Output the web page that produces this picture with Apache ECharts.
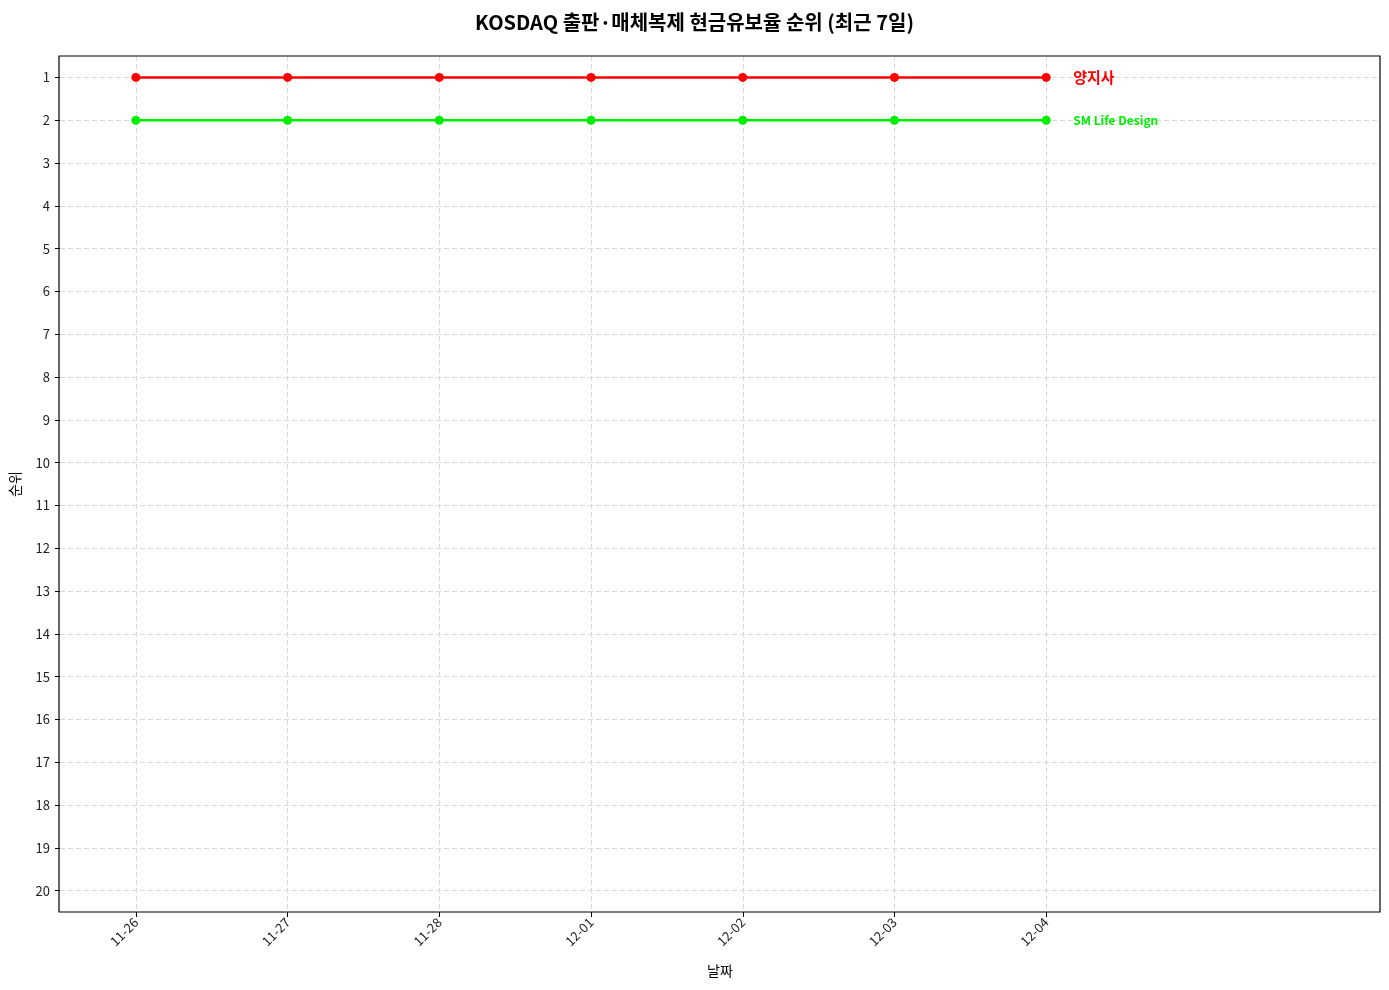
<!DOCTYPE html>
<html>
<head>
<meta charset="utf-8">
<script src="https://cdn.jsdelivr.net/npm/echarts@6/dist/echarts.min.js"></script>
<style>
  html, body { margin: 0; padding: 0; background: #fff; }
  #main { width: 1389px; height: 990px; }
</style>
</head>
<body>
<div id="main"></div>
<script>
// 날짜 (x축)
var dates = ['11-26', '11-27', '11-28', '12-01', '12-02', '12-03', '12-04']
// 순위 데이터
var names = ['양지사', 'SM Life Design']
var rankYangjisa = [1, 1, 1, 1, 1, 1, 1]
var rankSmLife = [2, 2, 2, 2, 2, 2, 2]
var colors = ['#ff0000', '#00ee00']
var rankTicks = [1, 2, 3, 4, 5, 6, 7, 8, 9, 10, 11, 12, 13, 14, 15, 16, 17, 18, 19, 20]

var FONT = '"Noto Sans CJK KR", "Noto Sans", sans-serif'

function toPoints(ranks) {
  return ranks.map(function (r, i) { return [i, r] })
}

var dateIdx = dates.map(function (d, i) { return i })

function makeSeries(name, ranks, color, labelSize) {
  return {
    name: name,
    type: 'line',
    data: toPoints(ranks),
    symbol: 'circle',
    symbolSize: 9,
    lineStyle: { color: color, width: 2.5 },
    itemStyle: { color: color },
    endLabel: {
      show: true,
      formatter: name,
      color: color,
      fontWeight: 'bold',
      fontSize: labelSize,
      fontFamily: FONT,
      distance: 27
    },
    animation: false,
    z: 3
  }
}

var myChart = echarts.init(document.getElementById('main'))
myChart.setOption({
  backgroundColor: '#fff',
  title: {
    text: 'KOSDAQ 출판·매체복제 현금유보율 순위 (최근 7일)',
    left: 'center',
    top: 7,
    textStyle: { fontFamily: FONT, fontSize: 20, fontWeight: 'bold', color: '#000' }
  },
  grid: { left: 59, right: 9, top: 56, bottom: 78, containLabel: false },
  xAxis: {
    type: 'value',
    min: -0.5,
    max: 8.2,
    name: '날짜',
    nameLocation: 'middle',
    nameGap: 52,
    nameTextStyle: { fontFamily: FONT, fontSize: 14, color: '#000' },
    axisLine: { show: false, onZero: false },
    axisTick: { show: true, customValues: dateIdx, length: 5, lineStyle: { color: '#000' } },
    axisLabel: {
      customValues: dateIdx,
      rotate: 45,
      margin: 8,
      fontFamily: FONT, fontSize: 13, color: '#222',
      formatter: function (v) { return dates[Math.round(v)] }
    },
    splitLine: { show: true, lineStyle: { color: '#d9d9d9', type: [5, 3], width: 1 } }
  },
  yAxis: {
    type: 'value',
    inverse: true,
    min: 0.5,
    max: 20.5,
    name: '순위',
    nameLocation: 'middle',
    nameGap: 38,
    nameRotate: 90,
    nameTextStyle: { fontFamily: FONT, fontSize: 14, color: '#000' },
    axisLine: { show: false, onZero: false },
    axisTick: { show: true, customValues: rankTicks, length: 5, lineStyle: { color: '#000' } },
    axisLabel: {
      customValues: rankTicks,
      margin: 10,
      fontFamily: FONT, fontSize: 13, color: '#222'
    },
    splitLine: { show: true, lineStyle: { color: '#d9d9d9', type: [5, 3], width: 1 } }
  },
  series: [
    makeSeries(names[0], rankYangjisa, colors[0], 15),
    makeSeries(names[1], rankSmLife, colors[1], 12)
  ]
})
// 플롯 테두리
myChart.setOption({
  graphic: [{
    type: 'rect',
    shape: { x: 59, y: 56, width: 1321, height: 856 },
    style: { fill: 'none', stroke: '#000', lineWidth: 1.2 },
    silent: true,
    z: 10
  }]
})
</script>
</body>
</html>
